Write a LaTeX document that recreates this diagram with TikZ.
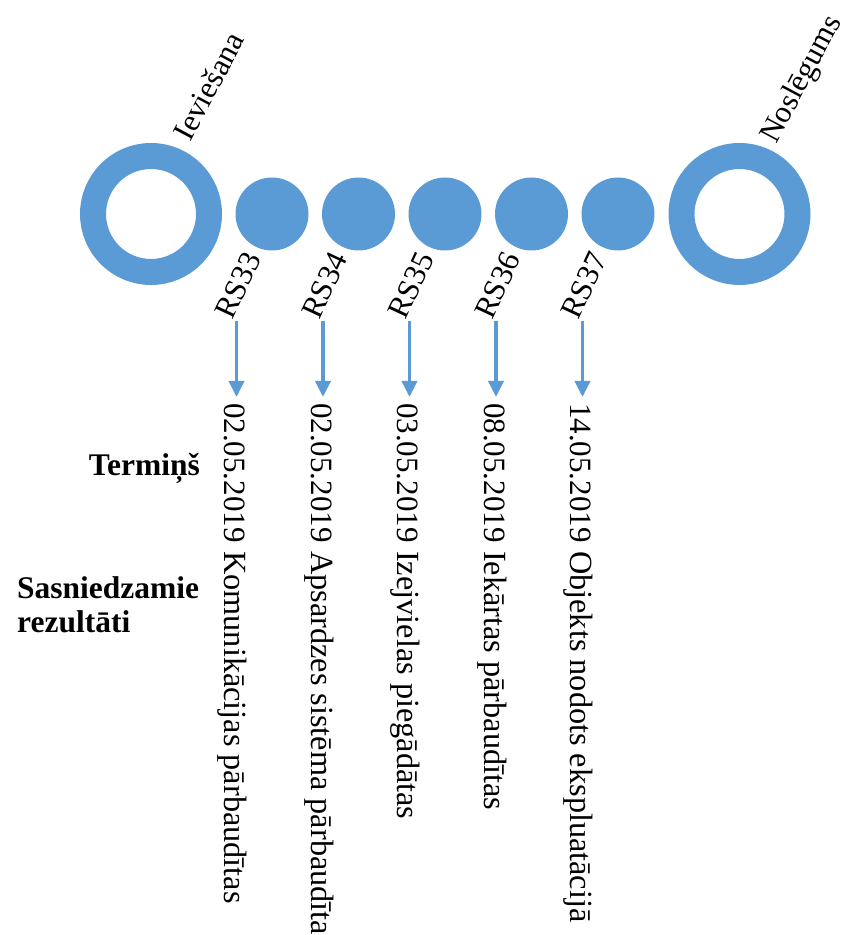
\documentclass[tikz,border=0pt]{standalone}
\usepackage{fontspec}
\setmainfont{Liberation Serif}
\usetikzlibrary{arrows.meta,calc}
\definecolor{accent}{HTML}{5B9BD5}
\tikzset{
  ring/.style={circle, draw=accent, line width=26pt, minimum size=116pt, inner sep=0pt},
  dot/.style={circle, fill=accent, minimum size=73pt, inner sep=0pt},
  tilted/.style={rotate=62, anchor=base west, inner sep=0pt, font=\fontsize{31}{34}\selectfont},
  rslabel/.style={tilted, rotate=3},
  downtext/.style={rotate=-90, anchor=base west, inner sep=0pt, font=\fontsize{31}{34}\selectfont},
  result/.style={downtext, font=\fontsize{32.3}{34}\selectfont},
  heading/.style={inner sep=0pt, font=\bfseries\fontsize{31.5}{34}\selectfont},
  arr/.style={draw=accent, line width=3.5pt, -{Triangle[width=15pt,length=16pt]}}
}
\begin{document}
\begin{tikzpicture}[x=1pt,y=1pt]
\useasboundingbox (0,0) rectangle (848,935);
% rings
\node[ring] (ring1) at (151,721) {};
\node[ring] (ring2) at (739.5,721) {};
\node[tilted] (lab1) at ($(ring1.center)+(61:81)$) {Ieviešana};
\node[tilted] (lab2) at ($(ring2.center)+(62:78)$) {Noslēgums};
% milestones
\foreach \cx/\n/\rs/\dt/\res in {
  272/1/RS33/02.05.2019/Komunikācijas pārbaudītas,
  358.5/2/RS34/02.05.2019/Apsardzes sistēma pārbaudīta,
  445/3/RS35/03.05.2019/Izejvielas piegādātas,
  531.5/4/RS36/08.05.2019/Iekārtas pārbaudītas,
  618/5/RS37/14.05.2019/Objekts nodots ekspluatācijā}{
  \node[dot] (d\n) at (\cx,721) {};
  \coordinate (t\n) at ($(d\n.center)+(-35.5,-107)$);
  \coordinate (h\n) at ($(d\n.center)+(-35.5,-183)$);
  \draw[arr] (t\n) -- (h\n);
  \node[rslabel] (rs\n) at ($(t\n)+(-4,0)$) {\rs};
  \node[downtext] (dt\n) at ($(h\n)+(-11.7,-6)$) {\dt};
  \node[result] (res\n) at ($(h\n)+(-12,-154)$) {\res};
}
% headings
\node[heading, anchor=base east] (term) at (200,459) {Termiņš};
\node[heading, anchor=north west, align=left] (sasn) at (17,359) {Sasniedzamie\\rezultāti};
\end{tikzpicture}
\end{document}
